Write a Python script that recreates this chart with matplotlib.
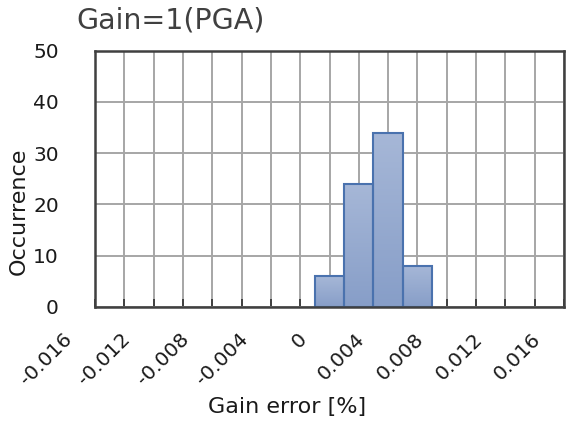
import numpy as np
import matplotlib
matplotlib.use("Agg")
import matplotlib.pyplot as plt
import matplotlib.transforms as mtransforms
from matplotlib.colors import LinearSegmentedColormap

plt.rcParams['font.family'] = ['DejaVu Sans']

# histogram bins (centre of each bin, % gain error) and counts
bin_centers = [0.000, 0.002, 0.004, 0.006]
counts = [6, 24, 34, 8]
bin_width = 0.002

xticks = [-0.016, -0.012, -0.008, -0.004, 0, 0.004, 0.008, 0.012, 0.016]
xticklabels = ['-0.016', '-0.012', '-0.008', '-0.004', '0', '0.004', '0.008', '0.012', '0.016']
yticks = [0, 10, 20, 30, 40, 50]

fig = plt.figure(figsize=(5.68, 4.28), dpi=100)
ax = fig.add_axes([95/568, 1-307/428, 469/568, 256.3/428])

bars = ax.bar(bin_centers, counts, width=bin_width, color='#97abd0',
              edgecolor='#4a72ae', linewidth=1.5, zorder=3)

# vertical gradient inside each bar (lighter at the top)
cmap = LinearSegmentedColormap.from_list('fill', ['#879ec8', '#a6b7d7'])
grad = np.linspace(0, 1, 64).reshape(-1, 1)
for b in bars:
    x0, y0 = b.get_x(), b.get_y()
    im = ax.imshow(grad, cmap=cmap, aspect='auto', zorder=3.5,
                   extent=(x0, x0 + b.get_width(), y0, y0 + b.get_height()),
                   origin='lower')
    im.set_clip_path(b)
    b.set_facecolor('none')
    b.set_zorder(4)

ax.set_xlim(-0.016, 0.016)
ax.set_ylim(0, 50)

ax.set_xticks(np.arange(-0.016, 0.0161, 0.002), minor=True)
ax.set_xticks(xticks)
ax.set_xticklabels([])
# rotated labels, placed a little left of the ticks like the spreadsheet does
trans = mtransforms.blended_transform_factory(ax.transData, ax.transAxes)
trans = trans + mtransforms.ScaledTranslation(-26/100, -29/100, fig.dpi_scale_trans)
for v, lbl in zip(xticks, xticklabels):
    ax.text(v, 0, lbl, transform=trans, rotation=45, ha='right', va='center',
            rotation_mode='anchor', fontsize=14.5, color='#1a1a1a', clip_on=False)

ax.set_yticks(yticks)
ax.set_yticklabels([str(v) for v in yticks], fontsize=14.5, color='#1a1a1a')

ax.grid(True, which='both', axis='x', color='#a6a6a6', linewidth=1.4, zorder=1)
ax.grid(True, axis='y', color='#a6a6a6', linewidth=1.4, zorder=1)
ax.set_axisbelow(True)

ax.tick_params(axis='x', which='both', direction='in', length=6, width=1.4,
               color='#404040')
ax.tick_params(axis='y', length=0, pad=26)
for t in ax.xaxis.get_ticklines(minor=False) + ax.xaxis.get_ticklines(minor=True):
    t.set_zorder(6)

for s in ax.spines.values():
    s.set_color('#404040')
    s.set_linewidth(1.8)
    s.set_zorder(7)

ax.set_xlabel('Gain error [%]', fontsize=16, color='#1a1a1a', va='center')
ax.xaxis.set_label_coords(0.41, -0.39)
ax.set_ylabel('Occurrence', fontsize=16, color='#1a1a1a', va='center')
ax.yaxis.set_label_coords(-0.162, 0.375)

fig.text(171/568, 1-20/428, 'Gain=1(PGA)', fontsize=20.5, color='#404040',
         ha='center', va='center')

fig.savefig('out.png', dpi=100)
